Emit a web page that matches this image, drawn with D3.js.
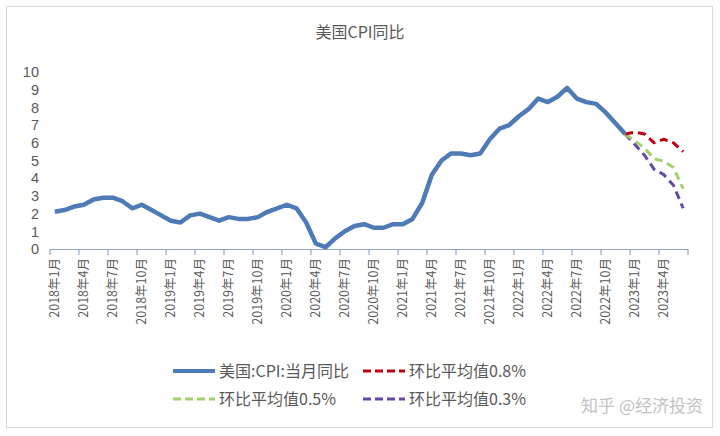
<!DOCTYPE html>
<html><head><meta charset="utf-8">
<script src="https://cdn.jsdelivr.net/npm/d3@7"></script>
<style>body{margin:0;background:#fff;} svg{display:block;}</style>
</head><body>
<svg id="c" width="720" height="436"></svg>
<script>
// ---- data ----
const years = [2018, 2019, 2020, 2021, 2022, 2023];
const months = [];
years.forEach(y => { for (let m = 1; m <= 12; m++) { if (y === 2023 && m > 6) break; months.push(y + "年" + m + "月"); } });
const cpi = [2.1,2.2,2.4,2.5,2.8,2.9,2.9,2.7,2.3,2.5,2.2,1.9,
             1.6,1.5,1.9,2.0,1.8,1.6,1.8,1.7,1.7,1.8,2.1,2.3,
             2.5,2.3,1.5,0.3,0.1,0.6,1.0,1.3,1.4,1.2,1.2,1.4,
             1.4,1.7,2.6,4.2,5.0,5.4,5.4,5.3,5.4,6.2,6.8,7.0,
             7.5,7.9,8.5,8.3,8.6,9.1,8.5,8.3,8.2,7.7,7.1,6.5];
const projMonths = ["2022年12月","2023年1月","2023年2月","2023年3月","2023年4月","2023年5月","2023年6月"];
const proj08 = [6.5,6.6,6.5,6.0,6.2,6.0,5.5];
const proj05 = [6.5,6.1,5.7,5.1,4.95,4.6,3.4];
const proj03 = [6.5,5.9,5.3,4.5,4.2,3.6,2.3];
const yTicks = [0,1,2,3,4,5,6,7,8,9,10];
const tickLabels = months.filter((d, i) => i % 3 === 0);

const names = ["美国:CPI:当月同比", "环比平均值0.8%", "环比平均值0.5%", "环比平均值0.3%"];
const colors = ["#4E7AB5", "#C00012", "#A3D06C", "#6548A4"];

// ---- drawing ----
const svg = d3.select("#c");
const font = "'Noto Sans CJK SC','Microsoft YaHei',sans-serif";
const numFont = "'Liberation Sans',Arial,sans-serif";
const txt = "#595959";

svg.append("rect").attr("x", 6.5).attr("y", 6.5).attr("width", 706).attr("height", 421)
  .attr("fill", "#fff").attr("stroke", "#d9d9d9");

svg.append("text").attr("x", 360).attr("y", 38).attr("text-anchor", "middle")
  .attr("font-family", font).attr("font-size", 16).attr("fill", txt).text("美国CPI同比");

const x = d3.scaleBand().domain(months).range([50, 688]);
const y = d3.scaleLinear().domain([0, 10]).range([249, 72]);

// y labels
svg.append("g").selectAll("text").data(yTicks).join("text")
  .attr("x", 39).attr("y", d => y(d)).attr("dy", "0.36em").attr("text-anchor", "end")
  .attr("font-family", numFont).attr("font-size", 14.5).attr("fill", txt).text(d => d);

// x axis
const axisColor = "#8EA5CB";
svg.append("line").attr("x1", 50).attr("x2", 688).attr("y1", 249.5).attr("y2", 249.5)
  .attr("stroke", axisColor).attr("stroke-width", 1.2);
const boundaries = d3.range(0, months.length + 1, 3).map(i => i < months.length ? x(months[i]) : 688);
svg.append("g").selectAll("line").data(boundaries).join("line")
  .attr("x1", d => d).attr("x2", d => d).attr("y1", 249).attr("y2", 255)
  .attr("stroke", axisColor).attr("stroke-width", 1.2);
svg.append("g").selectAll("text").data(tickLabels).join("text")
  .attr("transform", d => `translate(${x(d) + x.bandwidth() / 2 + 4.5},258) rotate(-90)`)
  .attr("text-anchor", "end").attr("font-family", font).attr("font-size", 12.5)
  .attr("fill", txt).text(d => d);

const line = d3.line().x(d => x(d[0]) + x.bandwidth() / 2).y(d => y(d[1])).curve(d3.curveLinear);

const series = [
  { data: projMonths.map((m, i) => [m, proj03[i]]), c: colors[3], dash: "8,5" },
  { data: projMonths.map((m, i) => [m, proj05[i]]), c: colors[2], dash: "8,5" },
  { data: projMonths.map((m, i) => [m, proj08[i]]), c: colors[1], dash: "8,5" },
  { data: months.slice(0, cpi.length).map((m, i) => [m, cpi[i]]), c: colors[0], dash: null }
];
series.forEach(s => {
  svg.append("path").attr("d", line(s.data)).attr("fill", "none")
    .attr("stroke", s.c).attr("stroke-width", s.dash ? 3 : 4.5)
    .attr("stroke-linejoin", "round").attr("stroke-linecap", "butt")
    .attr("stroke-dasharray", s.dash);
});

// legend
const leg = [
  { x: 173, y: 371, i: 0, dash: null },
  { x: 363, y: 371, i: 1, dash: "8,4" },
  { x: 173, y: 399, i: 2, dash: "8,4" },
  { x: 363, y: 399, i: 3, dash: "8,4" }
];
leg.forEach(l => {
  svg.append("line").attr("x1", l.x).attr("x2", l.x + 42).attr("y1", l.y).attr("y2", l.y)
    .attr("stroke", colors[l.i]).attr("stroke-width", l.dash ? 3 : 4).attr("stroke-dasharray", l.dash);
  svg.append("text").attr("x", l.x + 46).attr("y", l.y).attr("dy", "0.36em")
    .attr("font-family", font).attr("font-size", 16).attr("fill", txt).text(names[l.i]);
});

// watermark
svg.append("text").attr("x", 703).attr("y", 412).attr("text-anchor", "end")
  .attr("font-family", font).attr("font-size", 17).attr("fill", "#9a9a9a").attr("opacity", 0.6)
  .text("知乎 @经济投资");
</script>
</body></html>
